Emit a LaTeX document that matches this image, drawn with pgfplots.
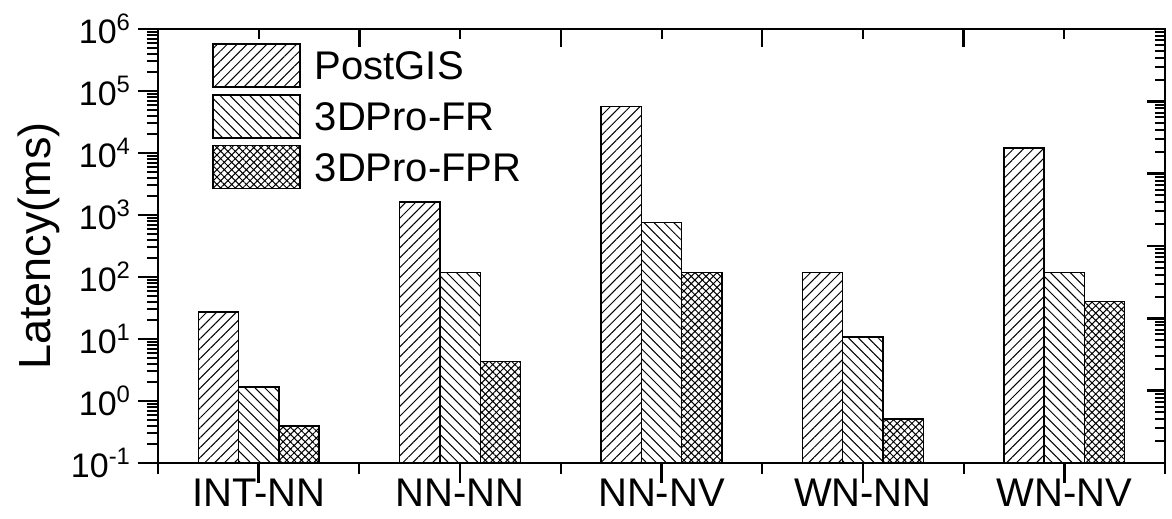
\documentclass[border=0pt]{standalone}
\usepackage{fontspec}
\setmainfont{Liberation Sans}
\usepackage{pgfplots}
\pgfplotsset{compat=1.18}
\usetikzlibrary{patterns.meta}

% latency per query type, log scale
\pgfplotstableread{
x  postgis  fr    fpr
0  27.2     1.68  0.395
1  1620     117   4.3
2  55800    751   117
3  117      10.8  0.51
4  12000    118   40
}\lat

\begin{document}
\begin{tikzpicture}
\path[use as bounding box] (-79pt,-28pt) rectangle (507pt,231.5pt);
\begin{axis}[
  scale only axis, width=503.5pt, height=217pt,
  xmin=-0.5, xmax=4.5,
  ymode=log, ymin=0.1, ymax=1e6, log origin=infty,
  ytick={1e-1,1,10,100,1000,1e4,1e5,1e6},
  minor ytick={0.2,0.3,0.4,0.5,0.6,0.7,0.8,0.9,
    2,3,4,5,6,7,8,9, 20,30,40,50,60,70,80,90,
    200,300,400,500,600,700,800,900,
    2e3,3e3,4e3,5e3,6e3,7e3,8e3,9e3,
    2e4,3e4,4e4,5e4,6e4,7e4,8e4,9e4,
    2e5,3e5,4e5,5e5,6e5,7e5,8e5,9e5},
  yticklabels={10\textsuperscript{-1},10\textsuperscript{0},10\textsuperscript{1},10\textsuperscript{2},
    10\textsuperscript{3},10\textsuperscript{4},10\textsuperscript{5},10\textsuperscript{6}},
  xtick={0,...,4},
  xticklabels={INT-NN,NN-NN,NN-NV,WN-NN,WN-NV},
  minor xtick={-0.5,0.5,1.5,2.5,3.5,4.5},
  xtick pos=left, ytick pos=left, tick align=outside,
  major tick length=10pt, minor tick length=5.5pt,
  major tick style={black, line width=1.2pt},
  minor tick style={black, line width=1pt},
  axis line style={line width=1pt},
  xticklabel style={font=\fontsize{20}{20}\selectfont, yshift=5.5pt},
  yticklabel style={font=\fontsize{17}{17}\selectfont},
  ylabel={Latency(ms)},
  every axis y label/.style={at={(axis description cs:-0.118,0.5)}, rotate=90, anchor=center,
    font=\fontsize{22.5}{22.5}\selectfont},
  ybar, bar width=0.2,
  every axis plot/.append style={draw=black, fill=white, line width=0.7pt},
  legend style={draw=none, fill=none, at={(axis description cs:0.0536,0.968)}, anchor=north west,
    inner sep=0pt, row sep=3.25pt, column sep=6pt, font=\fontsize{20}{20}\selectfont,
    nodes={inner sep=1pt, text depth=0pt, anchor=base west}},
  legend image code/.code={\draw[#1, line width=0.7pt] (0pt,-3.6pt) rectangle (43.5pt,17.9pt);},
]
\addplot[bar shift=-0.2, pattern={Lines[angle=45,distance=3.5pt,line width=0.5pt]}]
  table[x=x, y=postgis] {\lat};
\addlegendentry{PostGIS}
\addplot[bar shift=0, pattern={Lines[angle=-45,distance=3.5pt,line width=0.5pt]}]
  table[x=x, y=fr] {\lat};
\addlegendentry{3DPro-FR}
\addplot[bar shift=0.2, pattern={Hatch[angle=45,distance=2.6pt,line width=0.5pt]}]
  table[x=x, y=fpr] {\lat};
\addlegendentry{3DPro-FPR}
\end{axis}
% mirrored ticks on top and right (inward)
\begin{axis}[
  scale only axis, width=503.5pt, height=217pt,
  xmin=-0.5, xmax=4.5,
  ymode=log, ymin=1, ymax=1e6,
  ytick={1,10,100,1000,1e4,1e5,1e6},
  minor ytick={2,3,4,5,6,7,8,9, 20,30,40,50,60,70,80,90,
    200,300,400,500,600,700,800,900,
    2e3,3e3,4e3,5e3,6e3,7e3,8e3,9e3,
    2e4,3e4,4e4,5e4,6e4,7e4,8e4,9e4,
    2e5,3e5,4e5,5e5,6e5,7e5,8e5,9e5},
  xtick={0.5,1.5,2.5,3.5}, minor xtick={0,...,4},
  xticklabels={}, yticklabels={},
  xtick pos=right, ytick pos=right, tick align=inside,
  major tick length=9pt, minor tick length=5pt,
  major tick style={black, line width=1.2pt},
  minor tick style={black, line width=1pt},
  axis line style={line width=1pt},
]
\end{axis}
\end{tikzpicture}
\end{document}
